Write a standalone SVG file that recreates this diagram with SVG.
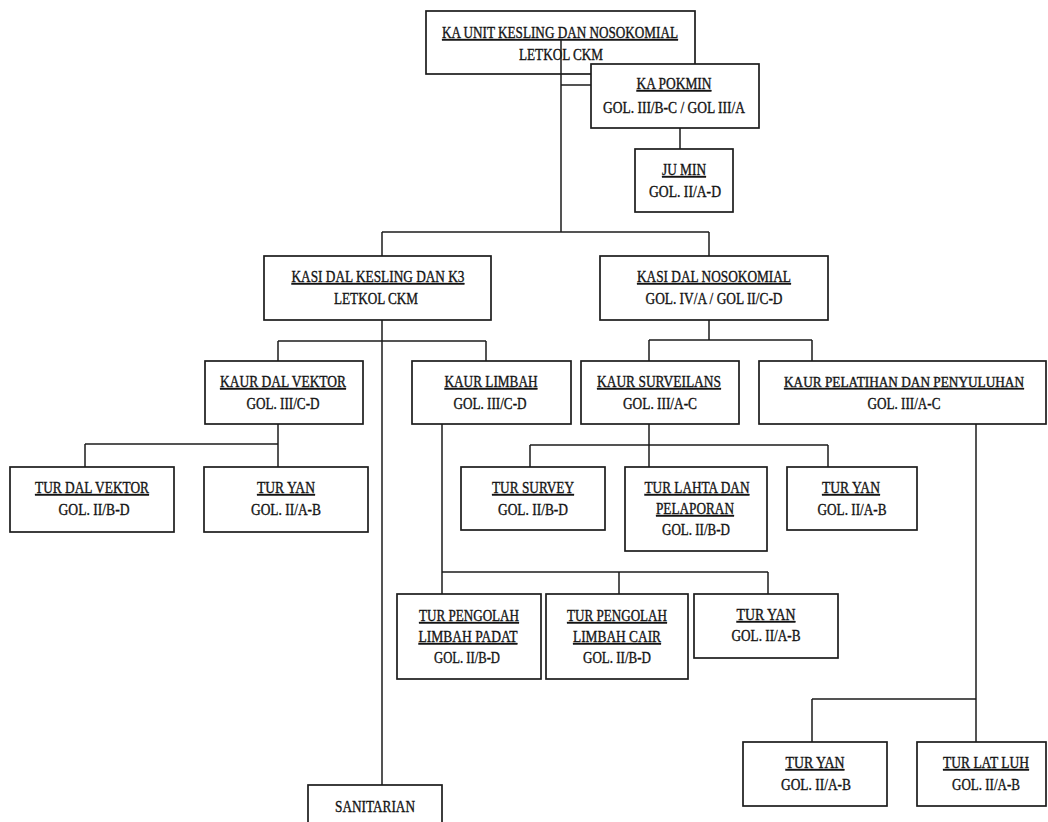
<svg xmlns="http://www.w3.org/2000/svg" width="1048" height="822" viewBox="0 0 1048 822">
<style>
.bg{fill:#ffffff}
.box{fill:none;stroke:#1c1c1c;stroke-width:1.7}
.boxw{fill:#ffffff;stroke:#1c1c1c;stroke-width:1.7}
.c{fill:none;stroke:#1c1c1c;stroke-width:1.5}
text{font-family:"Liberation Serif","Times New Roman",serif;font-size:16px;fill:#141414;stroke:#141414;stroke-width:0.35;text-anchor:middle}
.u{text-decoration:underline}
.sm{font-size:14px}
</style>
<rect class="bg" x="0" y="0" width="1048" height="822"/>

<g id="n-ka-unit">
<rect class="box" x="426" y="11" width="269" height="63"/>
<text class="u" x="560" y="38" textLength="236" lengthAdjust="spacingAndGlyphs">KA UNIT KESLING DAN NOSOKOMIAL</text>
<text x="561" y="60" textLength="84" lengthAdjust="spacingAndGlyphs">LETKOL CKM</text>
</g>

<g id="connectors">
<path class="c" d="M561 39V232M561 85H591M680 128V149"/>
<path class="c" d="M382 232H709M382 232V256M709 232V256"/>
<path class="c" d="M382 320V785M278 341H486M278 341V361M486 341V361"/>
<path class="c" d="M278 424V467M85 444H278M85 444V467"/>
<path class="c" d="M442 424V594M442 572H768M619 572V594M768 572V594"/>
<path class="c" d="M709 320V340M649 340H812M649 340V361M812 340V361"/>
<path class="c" d="M649 424V467M530 445H828M530 445V467M828 445V467"/>
<path class="c" d="M976 424V742M812 699H976M812 699V742"/>
</g>

<g id="n-ka-pokmin">
<rect class="boxw" x="591" y="64" width="168" height="64"/>
<text class="u" x="674" y="89" textLength="75" lengthAdjust="spacingAndGlyphs">KA POKMIN</text>
<text x="674" y="113" textLength="142" lengthAdjust="spacingAndGlyphs">GOL. III/B-C / GOL III/A</text>
</g>

<g id="n-ju-min">
<rect class="box" x="635" y="149" width="98" height="63"/>
<text class="u" x="684" y="175" textLength="44" lengthAdjust="spacingAndGlyphs">JU MIN</text>
<text x="685" y="197" textLength="72" lengthAdjust="spacingAndGlyphs">GOL. II/A-D</text>
</g>

<g id="n-kasi-kesling">
<rect class="box" x="264" y="256" width="227" height="64"/>
<text class="u" x="378" y="282" textLength="173" lengthAdjust="spacingAndGlyphs">KASI DAL KESLING DAN K3</text>
<text x="376" y="304" textLength="84" lengthAdjust="spacingAndGlyphs">LETKOL CKM</text>
</g>

<g id="n-kasi-noso">
<rect class="box" x="600" y="256" width="228" height="64"/>
<text class="u" x="714" y="282" textLength="154" lengthAdjust="spacingAndGlyphs">KASI DAL NOSOKOMIAL</text>
<text x="714" y="304" textLength="137" lengthAdjust="spacingAndGlyphs">GOL. IV/A / GOL II/C-D</text>
</g>

<g id="n-kaur-vektor">
<rect class="box" x="205" y="361" width="158" height="63"/>
<text class="u" x="283" y="387" textLength="126" lengthAdjust="spacingAndGlyphs">KAUR DAL VEKTOR</text>
<text x="283" y="409" textLength="73" lengthAdjust="spacingAndGlyphs">GOL. III/C-D</text>
</g>

<g id="n-kaur-limbah">
<rect class="box" x="412" y="361" width="159" height="63"/>
<text class="u" x="491" y="387" textLength="93" lengthAdjust="spacingAndGlyphs">KAUR LIMBAH</text>
<text x="490" y="409" textLength="73" lengthAdjust="spacingAndGlyphs">GOL. III/C-D</text>
</g>

<g id="n-kaur-surveilans">
<rect class="box" x="581" y="361" width="158" height="63"/>
<text class="u" x="659" y="387" textLength="124" lengthAdjust="spacingAndGlyphs">KAUR SURVEILANS</text>
<text x="660" y="409" textLength="74" lengthAdjust="spacingAndGlyphs">GOL. III/A-C</text>
</g>

<g id="n-kaur-pelatihan">
<rect class="box" x="759" y="361" width="287" height="63"/>
<text class="u sm" x="904" y="387" textLength="240" lengthAdjust="spacingAndGlyphs">KAUR PELATIHAN DAN PENYULUHAN</text>
<text x="904" y="409" textLength="73" lengthAdjust="spacingAndGlyphs">GOL. III/A-C</text>
</g>

<g id="n-tur-dal-vektor">
<rect class="box" x="10" y="467" width="164" height="65"/>
<text class="u" x="92" y="493" textLength="114" lengthAdjust="spacingAndGlyphs">TUR DAL VEKTOR</text>
<text x="94" y="515" textLength="71" lengthAdjust="spacingAndGlyphs">GOL. II/B-D</text>
</g>

<g id="n-tur-yan-1">
<rect class="box" x="204" y="467" width="164" height="65"/>
<text class="u" x="286" y="493" textLength="58" lengthAdjust="spacingAndGlyphs">TUR YAN</text>
<text x="286" y="515" textLength="70" lengthAdjust="spacingAndGlyphs">GOL. II/A-B</text>
</g>

<g id="n-tur-survey">
<rect class="box" x="461" y="467" width="144" height="63"/>
<text class="u" x="533" y="493" textLength="82" lengthAdjust="spacingAndGlyphs">TUR SURVEY</text>
<text x="533" y="515" textLength="70" lengthAdjust="spacingAndGlyphs">GOL. II/B-D</text>
</g>

<g id="n-tur-lahta">
<rect class="box" x="625" y="467" width="142" height="84"/>
<text class="u" x="697" y="493" textLength="105" lengthAdjust="spacingAndGlyphs">TUR LAHTA DAN</text>
<text class="u" x="695" y="514" textLength="78" lengthAdjust="spacingAndGlyphs">PELAPORAN</text>
<text x="696" y="535" textLength="68" lengthAdjust="spacingAndGlyphs">GOL. II/B-D</text>
</g>

<g id="n-tur-yan-2">
<rect class="box" x="787" y="467" width="130" height="63"/>
<text class="u" x="851" y="493" textLength="58" lengthAdjust="spacingAndGlyphs">TUR YAN</text>
<text x="852" y="515" textLength="69" lengthAdjust="spacingAndGlyphs">GOL. II/A-B</text>
</g>

<g id="n-tur-pengolah-padat">
<rect class="box" x="397" y="594" width="144" height="85"/>
<text class="u" x="469" y="621" textLength="100" lengthAdjust="spacingAndGlyphs">TUR PENGOLAH</text>
<text class="u" x="468" y="642" textLength="99" lengthAdjust="spacingAndGlyphs">LIMBAH PADAT</text>
<text x="467" y="663" textLength="66" lengthAdjust="spacingAndGlyphs">GOL. II/B-D</text>
</g>

<g id="n-tur-pengolah-cair">
<rect class="box" x="546" y="594" width="142" height="85"/>
<text class="u" x="617" y="621" textLength="100" lengthAdjust="spacingAndGlyphs">TUR PENGOLAH</text>
<text class="u" x="617" y="642" textLength="88" lengthAdjust="spacingAndGlyphs">LIMBAH CAIR</text>
<text x="617" y="663" textLength="68" lengthAdjust="spacingAndGlyphs">GOL. II/B-D</text>
</g>

<g id="n-tur-yan-3">
<rect class="box" x="694" y="594" width="144" height="64"/>
<text class="u" x="766" y="620" textLength="59" lengthAdjust="spacingAndGlyphs">TUR YAN</text>
<text x="766" y="641" textLength="69" lengthAdjust="spacingAndGlyphs">GOL. II/A-B</text>
</g>

<g id="n-tur-yan-4">
<rect class="box" x="743" y="742" width="144" height="64"/>
<text class="u" x="815" y="768" textLength="59" lengthAdjust="spacingAndGlyphs">TUR YAN</text>
<text x="816" y="790" textLength="70" lengthAdjust="spacingAndGlyphs">GOL. II/A-B</text>
</g>

<g id="n-tur-lat-luh">
<rect class="box" x="917" y="742" width="129" height="64"/>
<text class="u" x="986" y="768" textLength="86" lengthAdjust="spacingAndGlyphs">TUR LAT LUH</text>
<text x="986" y="790" textLength="68" lengthAdjust="spacingAndGlyphs">GOL. II/A-B</text>
</g>

<g id="n-sanitarian">
<rect class="box" x="308" y="785" width="134" height="50"/>
<text x="375" y="812" textLength="80" lengthAdjust="spacingAndGlyphs">SANITARIAN</text>
</g>
</svg>
